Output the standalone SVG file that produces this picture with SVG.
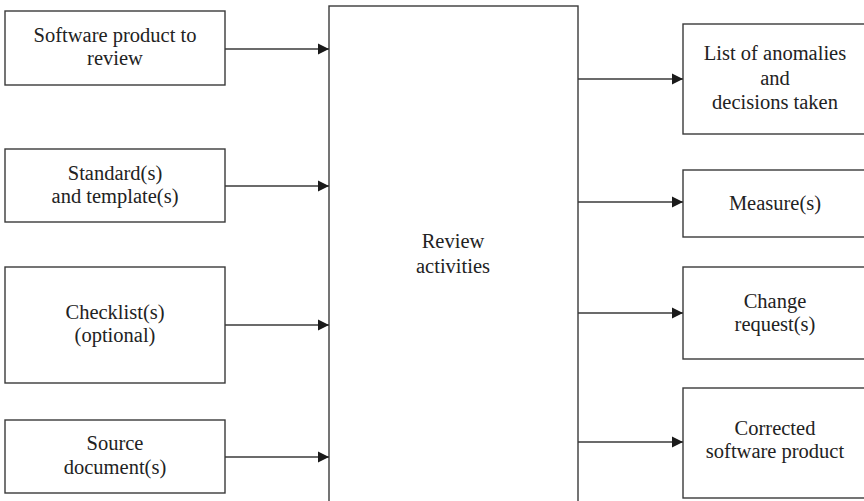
<svg xmlns="http://www.w3.org/2000/svg" width="864" height="501" viewBox="0 0 864 501">
  <style>
    .box { fill: #ffffff; stroke: #3a3a3a; stroke-width: 1.4; }
    .lbl { font-size: 20.5px; fill: #222222; text-anchor: middle; }
    .link { stroke: #3a3a3a; stroke-width: 1.4; fill: none; marker-end: url(#arrow); }
  </style>
  <defs>
    <marker id="arrow" markerUnits="userSpaceOnUse" markerWidth="12" markerHeight="12" refX="11" refY="6" orient="auto">
      <path d="M0,0.5 L11,6 L0,11.5 Z" fill="#1a1a1a"/>
    </marker>
  </defs>
  <rect width="864" height="501" fill="#ffffff"/>

  <g font-family="'Liberation Serif', 'DejaVu Serif', serif">
  <!-- central process -->
  <g id="review">
    <rect class="box" x="329" y="6" width="249" height="510"/>
    <text class="lbl" x="453" y="248">Review</text>
    <text class="lbl" x="453" y="273">activities</text>
  </g>

  <!-- inputs -->
  <g id="in-product">
    <rect class="box" x="5" y="11" width="220" height="74"/>
    <text class="lbl" x="115" y="42">Software product to</text>
    <text class="lbl" x="115" y="65">review</text>
  </g>
  <g id="in-standards">
    <rect class="box" x="5" y="149" width="220" height="73"/>
    <text class="lbl" x="115" y="180">Standard(s)</text>
    <text class="lbl" x="115" y="203">and template(s)</text>
  </g>
  <g id="in-checklists">
    <rect class="box" x="5" y="267" width="220" height="116"/>
    <text class="lbl" x="115" y="319">Checklist(s)</text>
    <text class="lbl" x="115" y="342">(optional)</text>
  </g>
  <g id="in-sources">
    <rect class="box" x="5" y="420" width="220" height="73"/>
    <text class="lbl" x="115" y="450">Source</text>
    <text class="lbl" x="115" y="474">document(s)</text>
  </g>

  <!-- outputs -->
  <g id="out-anomalies">
    <rect class="box" x="683" y="24" width="190" height="110"/>
    <text class="lbl" x="775" y="60">List of anomalies</text>
    <text class="lbl" x="775" y="84.5">and</text>
    <text class="lbl" x="775" y="109">decisions taken</text>
  </g>
  <g id="out-measures">
    <rect class="box" x="683" y="170" width="190" height="67"/>
    <text class="lbl" x="775" y="210">Measure(s)</text>
  </g>
  <g id="out-changes">
    <rect class="box" x="683" y="267" width="190" height="92"/>
    <text class="lbl" x="775" y="308">Change</text>
    <text class="lbl" x="775" y="331">request(s)</text>
  </g>
  <g id="out-corrected">
    <rect class="box" x="683" y="388" width="190" height="110"/>
    <text class="lbl" x="775" y="435">Corrected</text>
    <text class="lbl" x="775" y="458">software product</text>
  </g>
  </g>

  <!-- connectors -->
  <g id="connectors">
    <line class="link" x1="225" y1="49" x2="329" y2="49"/>
    <line class="link" x1="225" y1="186" x2="329" y2="186"/>
    <line class="link" x1="225" y1="325" x2="329" y2="325"/>
    <line class="link" x1="225" y1="457" x2="329" y2="457"/>
    <line class="link" x1="578" y1="79" x2="683" y2="79"/>
    <line class="link" x1="578" y1="202" x2="683" y2="202"/>
    <line class="link" x1="578" y1="313" x2="683" y2="313"/>
    <line class="link" x1="578" y1="442" x2="683" y2="442"/>
  </g>
</svg>
